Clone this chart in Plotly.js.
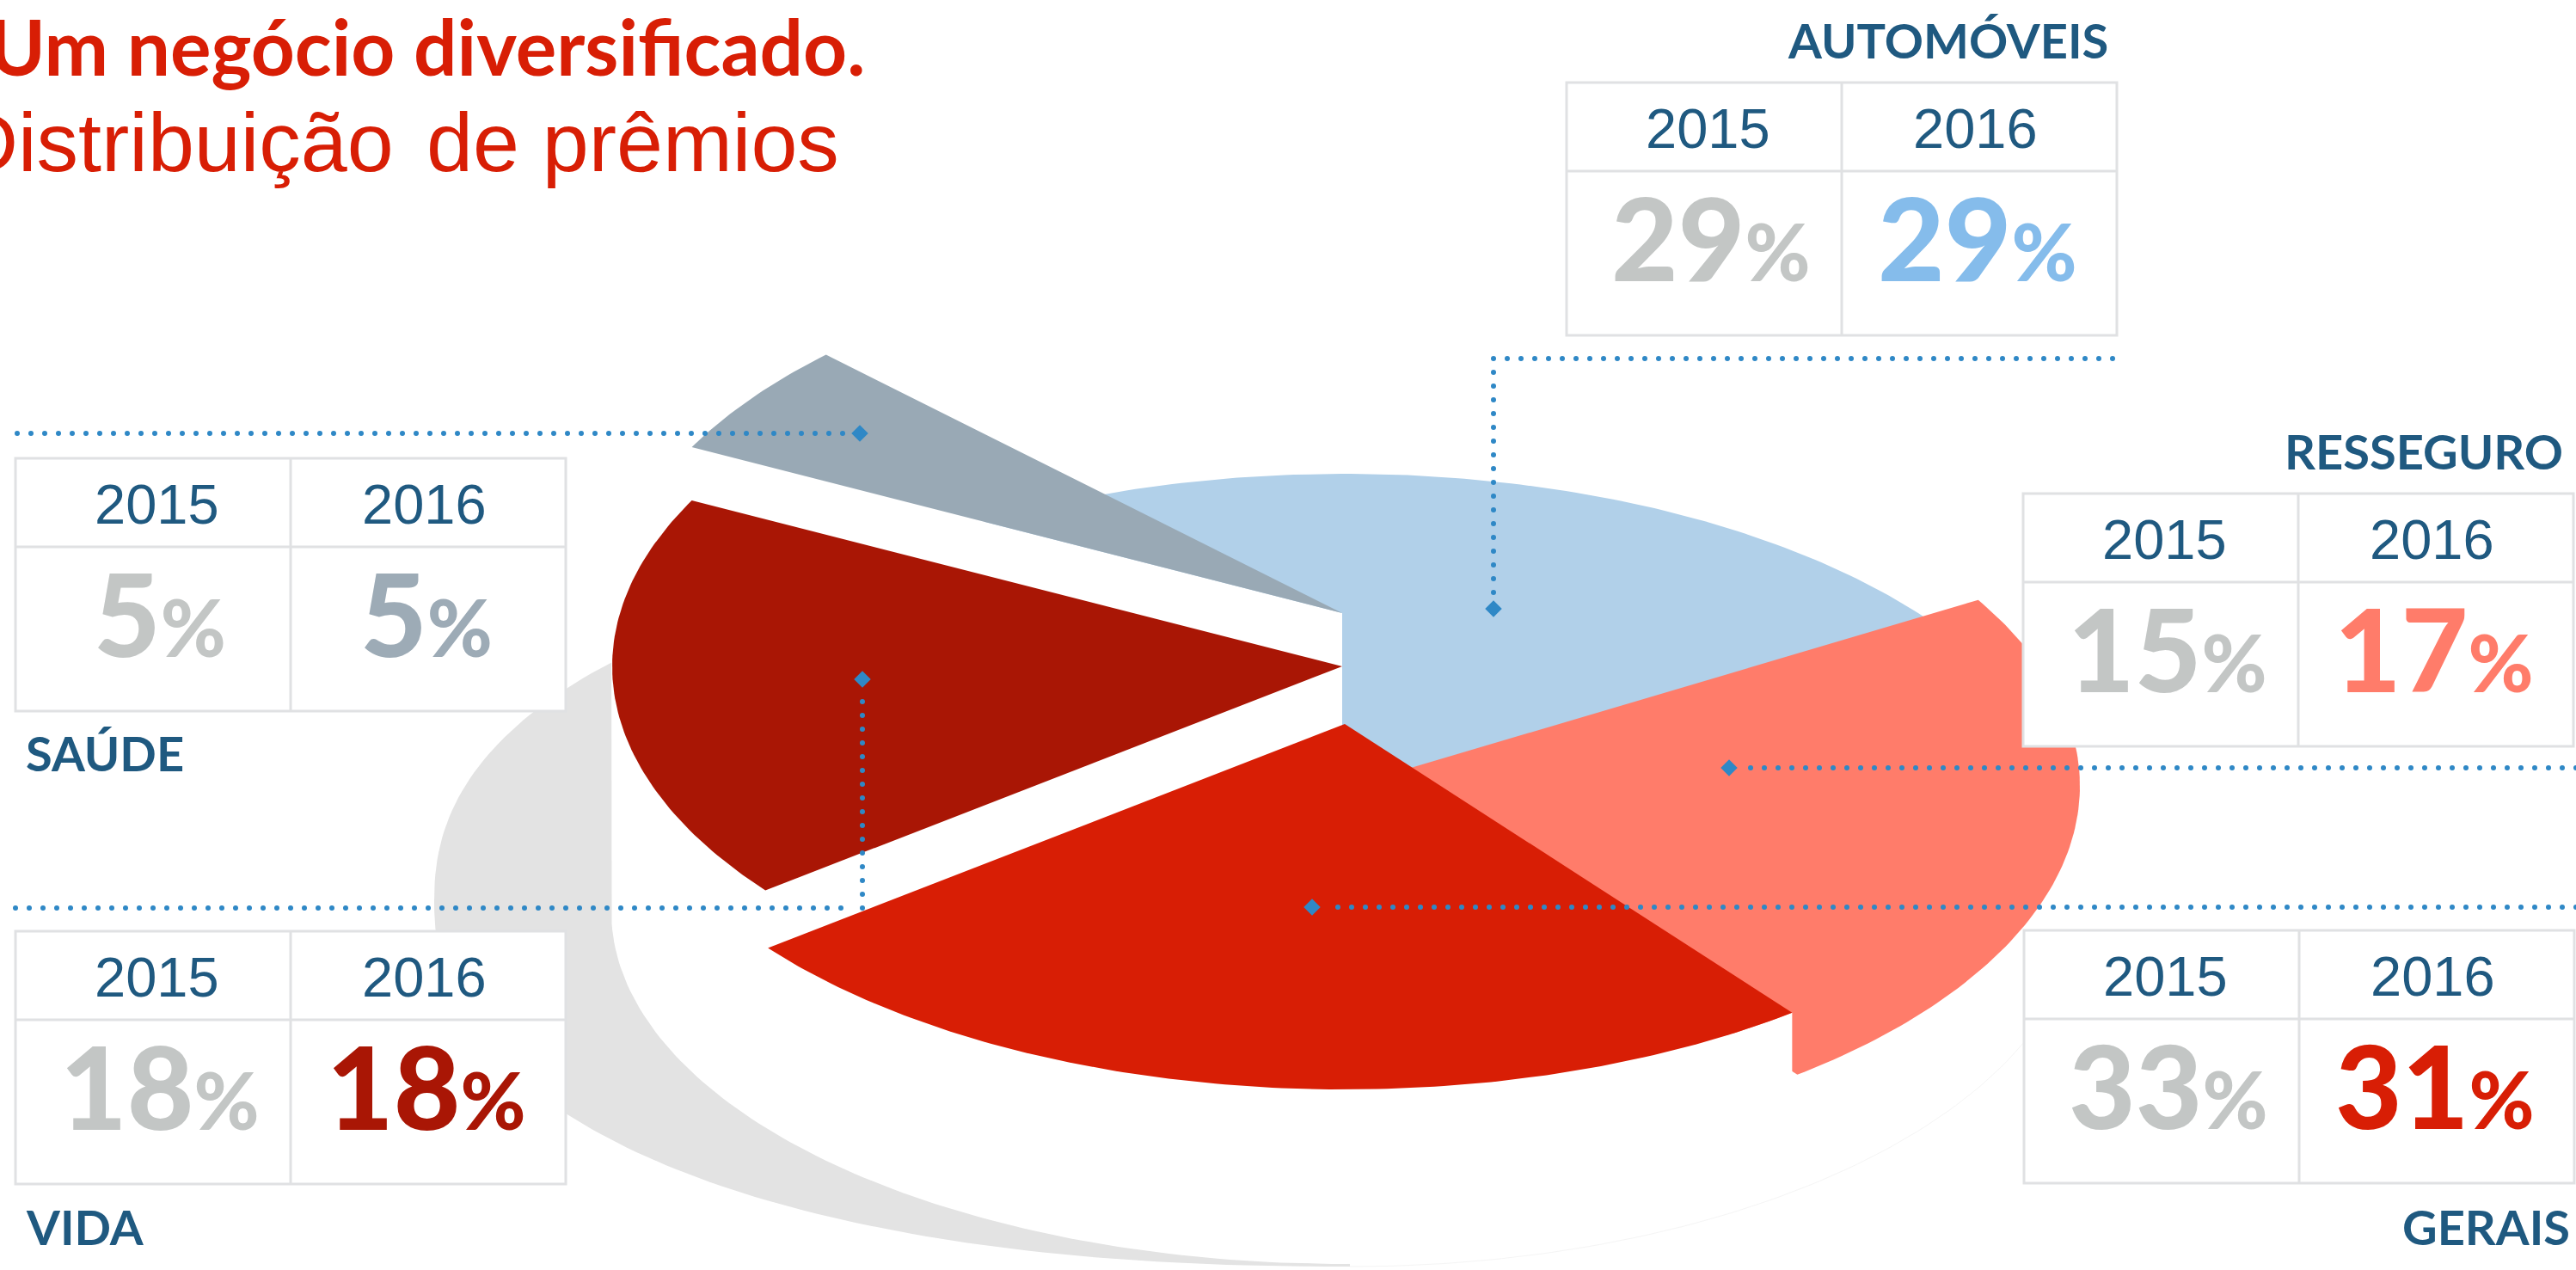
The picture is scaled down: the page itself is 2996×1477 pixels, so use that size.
<!DOCTYPE html>
<html lang="pt">
<head>
<meta charset="utf-8">
<script src="https://cdn.plot.ly/plotly-3.0.1.min.js"></script>
<style>html,body{margin:0;padding:0;background:#fff;overflow:hidden}#chart{width:2996px;height:1477px}</style>
</head>
<body>
<div id="chart"></div>
<script>
// ---- chart values ----
const categories = ["AUTOMÓVEIS", "RESSEGURO", "GERAIS", "VIDA", "SAÚDE"];
const years = ["2015", "2016"];
const share2015 = [29, 15, 33, 18, 5];
const share2016 = [29, 17, 31, 18, 5];

// ---- styles ----
const colors = ["#B1D0E9", "#FF7C6A", "#D81E05", "#A91605", "#99A9B5"];
const textColors = ["#85BCEB", "#FF7C6A", "#D81E05", "#A91605", "#9DABB6"];
const NAVY = "#1F5980", GREY = "#C3C6C5", BORDER = "#E0E1E3", LEAD = "#2F88C6";
const SANS = "Liberation Sans, Arial, sans-serif", BOLD = "Lato, sans-serif";

// ---- layout of the drawing (pixel-mapped axes) ----
const RX = 849, RY = 425;
const sliceCentres = [[1564, 976], [1570, 914], [1564, 842], [1561, 775], [1561, 713]];
// the picture draws Gerais / Resseguro split 6 points away from the true shares
const drawnShift = [0, 6, -6, 0, 0];
const startAngle = 30.6;
const cards = [
  {left: 1822, top: 96,   lx: 2453, ly: 46,   la: "right"},
  {left: 2353, top: 574,  lx: 2982, ly: 524,  la: "right"},
  {left: 2354, top: 1082, lx: 2990, ly: 1426, la: "right"},
  {left: 18,   top: 1083, lx: 29,   ly: 1426, la: "left"},
  {left: 18,   top: 533,  lx: 29,   ly: 875,  la: "left"}
];
const leaders = [
  [[2457, 417], [1737, 417], [1737, 708]],
  [[2996, 893], [2011, 893]],
  [[2996, 1055], [1526, 1055]],
  [[18, 1056], [1003, 1056], [1003, 790]],
  [[20, 504], [1000, 504]]
];

// slice angle ranges, counter-clockwise in the ellipse parameter, order: auto, gray, vida, gerais, ress
const order = [0, 4, 3, 2, 1];
const angles = {};
let running = startAngle;
order.forEach(i => {
  const sweep = (share2016[i] + drawnShift[i]) * 3.6;
  angles[i] = [running, running + sweep];
  running += sweep;
});

function arc(c, a0, a1) {
  const xs = [], ys = [];
  const n = Math.max(2, Math.ceil(Math.abs(a1 - a0) / 0.75));
  for (let k = 0; k <= n; k++) {
    const t = (a0 + (a1 - a0) * k / n) * Math.PI / 180;
    xs.push(c[0] + RX * Math.cos(t));
    ys.push(c[1] - RY * Math.sin(t));
  }
  return [xs, ys];
}
function poly(xs, ys, color) {
  return {type: "scatter", mode: "lines", x: xs, y: ys, fill: "toself", fillcolor: color,
          line: {width: 0, color: color}, hoverinfo: "skip", showlegend: false};
}
function slice(i) {
  const c = sliceCentres[i], [xs, ys] = arc(c, angles[i][0], angles[i][1]);
  return poly([c[0], ...xs, c[0]], [c[1], ...ys, c[1]], colors[i]);
}
// white extruded side of a slice: its front arc pushed down
function wallArc(i, h) {
  const [xs, ys] = arc(sliceCentres[i], angles[i][0], angles[i][1]);
  return poly([...xs, ...xs.slice().reverse()], [...ys, ...ys.map(y => y + h).reverse()], "#FFFFFF");
}
// white extruded side of a slice: its end ray pushed down
function wallRay(i, h) {
  const c = sliceCentres[i], [xs, ys] = arc(c, angles[i][1], angles[i][1]);
  return poly([xs[0], c[0], c[0], xs[0], xs[0]], [ys[0], c[1], c[1] + h, ys[0] + h, ys[0]], "#FFFFFF");
}
function shadow() {
  const xs = [1570], ys = [1048], n = 2.25;
  for (let a = 90; a <= 270; a += 1) {
    const t = a * Math.PI / 180, co = Math.cos(t), si = Math.sin(t);
    xs.push(1570 + 1065 * Math.sign(co) * Math.pow(Math.abs(co), 2 / n));
    ys.push(1048 - 425 * Math.sign(si) * Math.pow(Math.abs(si), 2 / n));
  }
  xs.push(1570); ys.push(1048);
  return poly(xs, ys, "#E3E3E3");
}
function bodyMask() {
  const xs = [711], ys = [700];
  for (let a = 180; a <= 360; a += 1) {
    const t = a * Math.PI / 180;
    xs.push(1564 + 853 * Math.cos(t)); ys.push(1060 - 410 * Math.sin(t));
  }
  xs.push(2417, 711); ys.push(700, 700);
  return poly(xs, ys, "#FFFFFF");
}
function faintEdge() {
  const xs = [], ys = [];
  for (let a = 270; a <= 345; a += 1) {
    const t = a * Math.PI / 180;
    xs.push(1570 + 850 * Math.cos(t)); ys.push(1048 - 425 * Math.sin(t));
  }
  return {type: "scatter", mode: "lines", x: xs, y: ys, line: {width: 1, color: "#F5F5F5"}, hoverinfo: "skip", showlegend: false};
}
function leaderDots(path) {
  const xs = [], ys = [];
  for (let s = 0; s < path.length - 1; s++) {
    const [x0, y0] = path[s], [x1, y1] = path[s + 1];
    const len = Math.hypot(x1 - x0, y1 - y0), m = Math.floor(len / 16);
    for (let k = 0; k < m; k++) { xs.push(x0 + (x1 - x0) * k * 16 / len); ys.push(y0 + (y1 - y0) * k * 16 / len); }
  }
  const end = path[path.length - 1];
  return [
    {type: "scatter", mode: "markers", x: xs, y: ys, marker: {size: 6, color: LEAD}, hoverinfo: "skip", showlegend: false},
    {type: "scatter", mode: "markers", x: [end[0]], y: [end[1]], marker: {size: 15, symbol: "diamond", color: LEAD}, hoverinfo: "skip", showlegend: false}
  ];
}

const traces = [
  shadow(), bodyMask(), faintEdge(),
  slice(0),
  wallRay(4, 300), slice(4),
  slice(1),
  wallArc(2, 120), slice(2),
  wallArc(3, 120), slice(3)
];
leaders.forEach(p => traces.push(...leaderDots(p)));

const shapes = [], annotations = [];
function note(x, y, text, size, color, family, anchor, weight) {
  annotations.push({xref: "x", yref: "y", x, y, text, showarrow: false, xanchor: anchor || "center", yanchor: "middle",
    borderpad: 0, font: {size, color, family, weight: weight || 400}});
}
function bigText(v) {
  return `${v}<span style="font-size:92px">%</span>`;
}
const line = (x0, y0, x1, y1) => ({type: "line", xref: "x", yref: "y", x0, y0, x1, y1, layer: "above", line: {color: BORDER, width: 3}});
categories.forEach((name, i) => {
  const c = cards[i], L = c.left, T = c.top, w = 320;
  shapes.push({type: "rect", xref: "x", yref: "y", x0: L, x1: L + 2 * w, y0: T, y1: T + 294, layer: "above",
    fillcolor: "#FFFFFF", line: {color: BORDER, width: 3}});
  shapes.push(line(L + w, T, L + w, T + 294), line(L, T + 103, L + 2 * w, T + 103));
  note(L + w / 2 + 4, T + 53, years[0], 65, NAVY, SANS);
  note(L + 3 * w / 2 - 5, T + 53, years[1], 65, NAVY, SANS);
  note(L + w / 2 + 8, T + 179, bigText(share2015[i]), 134, GREY, BOLD, "center", 900);
  note(L + 3 * w / 2 - 2, T + 179, bigText(share2016[i]), 134, textColors[i], BOLD, "center", 900);
  note(c.lx, c.ly, name, 56, NAVY, BOLD, c.la, 700);
});
note(1007, 53, "Um negócio diversificado.", 89, "#D81E05", BOLD, "right", 700);
note(459, 165, "Distribuição", 97, "#D81E05", SANS, "right");
note(977, 165, "de prêmios", 97, "#D81E05", SANS, "right");

Plotly.newPlot("chart", traces, {
  width: 2996, height: 1477, margin: {l: 0, r: 0, t: 0, b: 0, pad: 0},
  paper_bgcolor: "#FFFFFF", plot_bgcolor: "#FFFFFF", showlegend: false,
  xaxis: {range: [0, 2996], visible: false, fixedrange: true},
  yaxis: {range: [1477, 0], visible: false, fixedrange: true},
  shapes, annotations
}, {displayModeBar: false, staticPlot: true});
</script>
</body>
</html>
